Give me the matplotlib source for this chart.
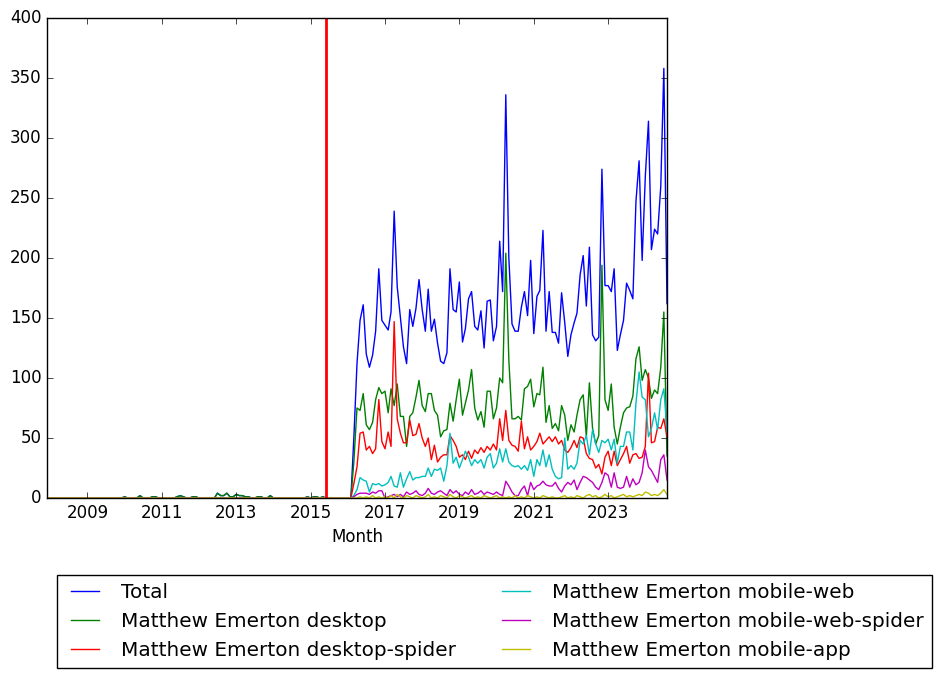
import datetime
import matplotlib
matplotlib.use('Agg')
import matplotlib.pyplot as plt
import matplotlib.dates as mdates
import pandas as pd

# monthly points, Dec 2007 .. Aug 2024
months = pd.date_range('2007-12-01', '2024-08-01', freq='MS')

# Dec 2007 .. Jan 2016: only a few desktop blips (total == desktop there)
desktop_early = [0,
                 0, 0, 0, 0, 0, 0, 0, 0, 0, 0, 0, 0,   # 2008
                 0, 0, 0, 0, 0, 0, 0, 0, 0, 0, 0, 0,   # 2009
                 1, 0, 0, 0, 0, 2, 0, 0, 0, 1, 1, 0,   # 2010
                 0, 0, 0, 0, 0, 1, 2, 1, 0, 0, 1, 1,   # 2011
                 0, 0, 0, 0, 0, 0, 4, 2, 2, 4, 1, 1,   # 2012
                 3, 2, 2, 1, 1, 0, 0, 1, 1, 0, 0, 2,   # 2013
                 0, 0, 0, 0, 0, 0, 0, 0, 0, 0, 0, 1,   # 2014
                 0, 1, 1, 0, 1, 0, 0, 0, 0, 0, 0, 0,   # 2015
                 0]                                    # Jan 2016
n_early = len(desktop_early)

# Feb 2016 .. Aug 2024
total_recent = [0, 50, 112, 148, 161, 120, 109, 119, 139, 191, 148,
                144, 140, 155, 239, 176, 151, 126, 112, 157, 143, 158, 182,
                157, 139, 174, 139, 149, 129, 114, 112, 121, 191, 157, 155,
                180, 130, 141, 166, 172, 143, 140, 156, 125, 164, 165, 131,
                143, 214, 172, 336, 200, 145, 139, 139, 159, 172, 152, 198,
                137, 168, 173, 223, 139, 172, 138, 138, 129, 171, 146, 118,
                136, 146, 154, 186, 202, 160, 209, 136, 131, 134, 274, 177,
                177, 172, 191, 123, 136, 148, 179, 173, 166, 247, 281, 198,
                268, 314, 207, 224, 220, 260, 358, 162]
desktop_recent = [0, 30, 75, 73, 87, 61, 57, 63, 82, 92, 87,
                  89, 71, 91, 77, 95, 68, 68, 43, 68, 71, 84, 98,
                  77, 72, 87, 87, 73, 69, 51, 56, 57, 79, 64, 82,
                  99, 69, 79, 90, 107, 75, 65, 72, 59, 89, 89, 66,
                  75, 100, 96, 204, 115, 66, 66, 68, 65, 91, 93, 99,
                  76, 87, 86, 109, 63, 77, 58, 62, 56, 77, 69, 48,
                  61, 55, 69, 82, 86, 51, 96, 58, 45, 52, 194, 82,
                  73, 95, 59, 45, 59, 71, 75, 76, 85, 116, 126, 98,
                  107, 100, 83, 90, 87, 109, 155, 35]
desktop_spider_recent = [0, 12, 26, 54, 55, 40, 43, 37, 41, 82, 47,
                         41, 55, 43, 147, 66, 54, 46, 46, 65, 52, 53, 62,
                         50, 43, 50, 32, 44, 30, 34, 36, 36, 52, 48, 43,
                         34, 36, 32, 39, 33, 40, 37, 42, 38, 43, 40, 45,
                         40, 66, 48, 73, 48, 44, 43, 39, 64, 41, 51, 40,
                         43, 47, 54, 45, 48, 51, 47, 51, 45, 48, 40, 38,
                         42, 48, 42, 51, 50, 37, 33, 32, 25, 28, 20, 34,
                         39, 27, 39, 27, 32, 37, 43, 29, 36, 37, 33, 34,
                         43, 104, 46, 47, 59, 58, 66, 51]
mobile_web_recent = [0, 2, 7, 17, 15, 14, 5, 12, 11, 12, 10,
                     11, 13, 18, 10, 9, 21, 9, 16, 22, 15, 17, 17,
                     18, 18, 25, 18, 24, 23, 25, 14, 27, 54, 29, 34,
                     25, 32, 39, 34, 27, 32, 29, 32, 25, 34, 37, 25,
                     29, 41, 30, 41, 30, 27, 26, 27, 24, 27, 23, 32,
                     18, 32, 27, 40, 26, 36, 24, 18, 16, 17, 50, 24,
                     27, 24, 29, 48, 45, 52, 36, 57, 45, 38, 48, 46,
                     49, 40, 49, 29, 43, 43, 55, 55, 40, 79, 105, 84,
                     82, 51, 58, 71, 57, 82, 91, 55]
mobile_web_spider_recent = [0, 1, 3, 4, 4, 4, 3, 5, 4, 6, 6,
                            0, 1, 2, 3, 1, 3, 1, 5, 3, 4, 6, 3,
                            2, 4, 8, 4, 3, 5, 6, 4, 2, 7, 4, 6,
                            3, 2, 5, 3, 7, 3, 4, 6, 3, 5, 4, 3,
                            5, 3, 2, 14, 10, 5, 2, 2, 7, 10, 2, 13,
                            7, 10, 11, 14, 11, 10, 10, 13, 8, 5, 10, 13,
                            11, 15, 7, 13, 18, 17, 15, 13, 9, 7, 13, 21,
                            19, 9, 21, 9, 8, 9, 18, 9, 16, 11, 13, 21,
                            40, 26, 23, 18, 13, 32, 36, 15]
mobile_app_recent = [0, 0, 0, 1, 0, 1, 0, 2, 0, 1, 0,
                     1, 0, 2, 0, 3, 1, 0, 2, 1, 0, 2, 1,
                     0, 1, 3, 0, 1, 0, 2, 1, 0, 3, 1, 0,
                     2, 1, 0, 1, 2, 0, 1, 0, 2, 1, 0, 1,
                     2, 0, 1, 0, 1, 0, 2, 0, 1, 0, 2, 1,
                     0, 1, 0, 2, 1, 0, 1, 0, 0, 1, 2, 0,
                     1, 0, 2, 1, 0, 2, 3, 1, 2, 0, 1, 3,
                     1, 2, 0, 1, 2, 3, 1, 2, 1, 2, 3, 2,
                     5, 4, 2, 3, 2, 4, 7, 3]

zeros_early = [0] * n_early
total = desktop_early + total_recent
desktop = desktop_early + desktop_recent
desktop_spider = zeros_early + desktop_spider_recent
mobile_web = zeros_early + mobile_web_recent
mobile_web_spider = zeros_early + mobile_web_spider_recent
mobile_app = zeros_early + mobile_app_recent

series = [
    ('Total', total, 'b'),
    ('Matthew Emerton desktop', desktop, 'g'),
    ('Matthew Emerton desktop-spider', desktop_spider, 'r'),
    ('Matthew Emerton mobile-web', mobile_web, 'c'),
    ('Matthew Emerton mobile-web-spider', mobile_web_spider, 'm'),
    ('Matthew Emerton mobile-app', mobile_app, 'y'),
]
marker_date = datetime.datetime(2015, 6, 1)
tick_years = [2009, 2011, 2013, 2015, 2017, 2019, 2021, 2023]

plt.style.use('classic')
fig = plt.figure(figsize=(9.41, 6.79), dpi=100, facecolor='white')
ax = fig.add_axes([47 / 941, 1 - 498 / 679, 620 / 941, 480 / 679])

for label, values, color in series:
    ax.plot(months, values, color=color, label=label)
ax.axvline(marker_date, color='r', linewidth=2)

ax.set_xlim(months[0], months[-1])
ax.set_ylim(0, 400)
ax.set_yticks(range(0, 401, 50))
ax.set_xticks([datetime.datetime(y, 1, 1) for y in tick_years])
ax.xaxis.set_major_formatter(mdates.DateFormatter('%Y'))
ax.set_xlabel('Month')

fig.legend(loc='upper left', bbox_to_anchor=(57 / 941, 1 - 575 / 679),
           bbox_transform=fig.transFigure, ncol=2, borderaxespad=0)

fig.savefig('out.png', dpi=100, facecolor='white')
